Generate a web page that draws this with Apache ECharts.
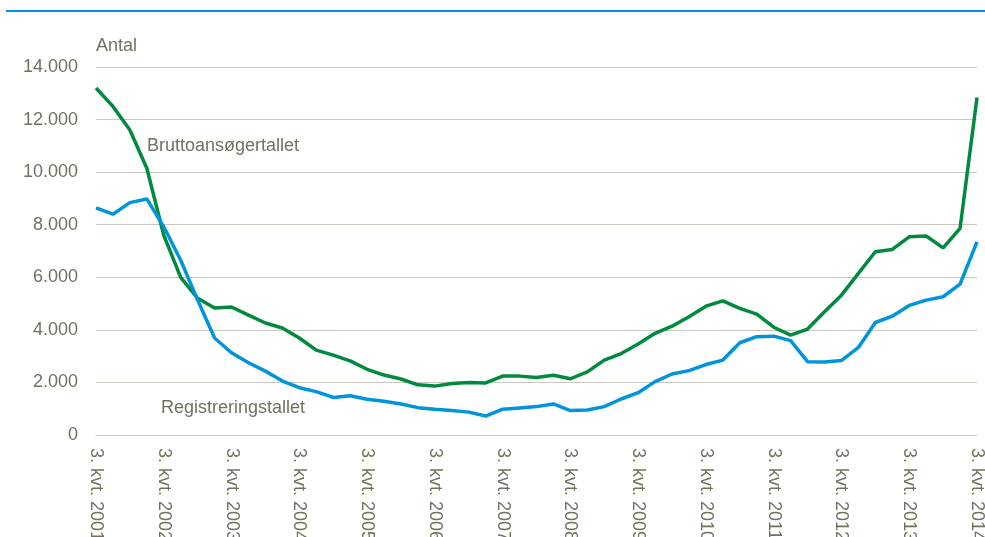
<!DOCTYPE html>
<html>
<head>
<meta charset="utf-8">
<script src="https://cdn.jsdelivr.net/npm/echarts@6/dist/echarts.min.js"></script>
<style>
html,body{margin:0;padding:0;background:#fff;}
#c{width:985px;height:537px;}
</style>
</head>
<body>
<div id="c"></div>
<script>
// Quarterly categories: 3. kvt. 2001 ... 3. kvt. 2014
var firstYear = 2001, firstQuarter = 3, nPoints = 53;
var categories = [];
(function(){
  var y = firstYear, q = firstQuarter;
  for (var i = 0; i < nPoints; i++) {
    categories.push(q + '. kvt. ' + y);
    q++; if (q > 4) { q = 1; y++; }
  }
})();

var bruttoansoegertallet = [
  13200, 12500, 11600, 10150, 7600, 6000, 5200, 4830, 4870, 4560,
  4260, 4070, 3690, 3230, 3040, 2820, 2500, 2280, 2130, 1910,
  1860, 1960, 2000, 1980, 2240, 2240, 2190, 2270, 2140, 2400,
  2850, 3100, 3460, 3870, 4140, 4500, 4900, 5100, 4820, 4600,
  4100, 3800, 4030, 4690, 5320, 6150, 6970, 7060, 7540, 7570,
  7120, 7860, 12840
];
var registreringstallet = [
  8640, 8400, 8840, 8980, 7920, 6650, 5130, 3690, 3130, 2750,
  2430, 2050, 1800, 1650, 1430, 1490, 1360, 1280, 1180, 1040,
  980, 930, 870, 720, 980, 1030, 1080, 1180, 930, 950,
  1080, 1370, 1610, 2030, 2320, 2450, 2680, 2850, 3510, 3740,
  3760, 3590, 2790, 2780, 2830, 3330, 4280, 4520, 4930, 5130,
  5260, 5740, 7350
];
var yTicks = [0, 2000, 4000, 6000, 8000, 10000, 12000, 14000];

var FONT = '"Liberation Sans Narrow", "Arial Narrow", "Liberation Sans", Arial, sans-serif';
var TXT = '#74705f';
var GRID = '#c9c7bd';
var FS = 18;

var chart = echarts.init(document.getElementById('c'), null, {renderer: 'canvas'});
chart.setOption({
  animation: false,
  backgroundColor: '#ffffff',
  textStyle: {fontFamily: FONT},
  grid: {left: 96, right: 8, top: 67, bottom: 102, containLabel: false, outerBoundsMode: 'none'},
  xAxis: {
    type: 'category',
    data: categories,
    boundaryGap: false,
    axisLine: {show: true, lineStyle: {color: GRID, width: 1}},
    axisTick: {show: false},
    axisLabel: {
      interval: 3,
      rotate: -90,
      margin: 13,
      color: TXT,
      fontSize: FS,
      fontFamily: FONT
    },
    splitLine: {show: false}
  },
  yAxis: {
    type: 'value',
    min: yTicks[0],
    max: yTicks[yTicks.length - 1],
    interval: 2000,
    name: 'Antal',
    nameLocation: 'end',
    nameGap: 21,
    nameTextStyle: {color: TXT, fontSize: FS, fontFamily: FONT, align: 'left', verticalAlign: 'middle'},
    axisLine: {show: false},
    axisTick: {show: false},
    axisLabel: {
      margin: 18,
      color: TXT,
      fontSize: FS,
      fontFamily: FONT,
      formatter: function (v) { return v.toString().replace(/\B(?=(\d{3})+(?!\d))/g, '.'); }
    },
    splitLine: {show: true, lineStyle: {color: GRID, width: 1}}
  },
  series: [
    {
      name: 'Bruttoansøgertallet',
      type: 'line',
      data: bruttoansoegertallet,
      symbol: 'none',
      lineStyle: {color: '#008a3e', width: 3.5},
      z: 3
    },
    {
      name: 'Registreringstallet',
      type: 'line',
      data: registreringstallet,
      symbol: 'none',
      lineStyle: {color: '#0095da', width: 3.5},
      z: 4
    }
  ],
  graphic: [
    {type: 'rect', shape: {x: 6, y: 10, width: 979, height: 2}, style: {fill: '#0095da'}, silent: true},
    {type: 'text', left: 147, top: 137, style: {text: 'Bruttoansøgertallet', fill: TXT, font: FS + 'px ' + FONT}},
    {type: 'text', left: 161, top: 399, style: {text: 'Registreringstallet', fill: TXT, font: FS + 'px ' + FONT}}
  ]
});
</script>
</body>
</html>
